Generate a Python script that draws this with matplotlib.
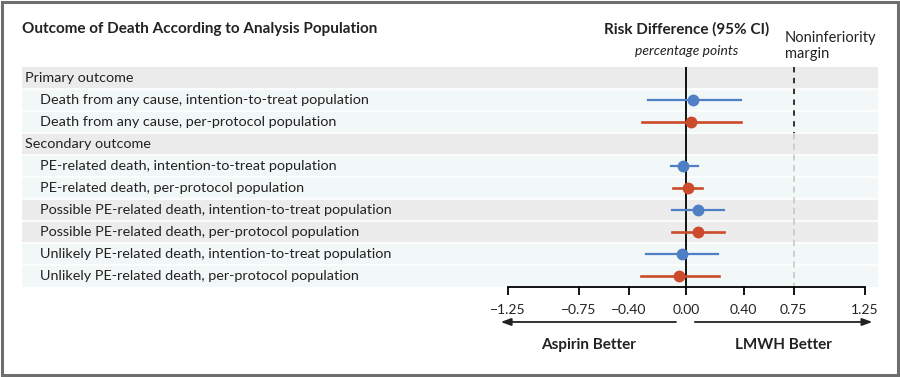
import matplotlib.pyplot as plt
from matplotlib.patches import Rectangle

plt.rcParams['font.family'] = ['Lato', 'DejaVu Sans']

# Data
labels = [
    "Primary outcome",
    "Death from any cause, intention-to-treat population",
    "Death from any cause, per-protocol population",
    "Secondary outcome",
    "PE-related death, intention-to-treat population",
    "PE-related death, per-protocol population",
    "Possible PE-related death, intention-to-treat population",
    "Possible PE-related death, per-protocol population",
    "Unlikely PE-related death, intention-to-treat population",
    "Unlikely PE-related death, per-protocol population",
]
is_header = [True, False, False, True, False, False, False, False, False, False]
band_shade = ["head", "pale", "pale", "head", "pale", "pale", "gray", "gray", "pale", "pale"]

est = [None, 0.05, 0.03, None, -0.02, 0.01, 0.08, 0.08, -0.03, -0.05]
lo = [None, -0.27, -0.31, None, -0.11, -0.09, -0.10, -0.10, -0.28, -0.32]
hi = [None, 0.38, 0.38, None, 0.08, 0.11, 0.26, 0.26, 0.22, 0.23]
population = [None, "itt", "pp", None, "itt", "pp", "itt", "pp", "itt", "pp"]

ticks = [-1.25, -0.75, -0.40, 0.00, 0.40, 0.75, 1.25]
tick_labels = ["\u22121.25", "\u22120.75", "\u22120.40", "0.00", "0.40", "0.75", "1.25"]
margin = 0.75

colors = {"itt": "#4f80c6", "pp": "#cc4b2a"}
shades = {"head": "#ebebeb", "pale": "#f2f7f7", "gray": "#ececec"}

W, H = 900, 377
fig = plt.figure(figsize=(9, 3.77), dpi=100)
ax = fig.add_axes([22 / W, 1 - 287 / H, 856 / W, 220 / H])

n = len(labels)
ax.set_ylim(n - 0.5, -0.5)
ax.set_xlim(-4.645, 1.34)

# row bands
for i, s in enumerate(band_shade):
    ax.axhspan(i - 0.5, i + 0.5, color=shades[s], lw=0, zorder=0)
    if i > 0:
        ax.axhline(i - 0.5, color="white", lw=1.2, zorder=1)

# reference lines
ax.plot([0, 0], [-0.5, n - 0.5], color="black", lw=1.3, zorder=2)
ax.plot([margin, margin], [-0.5, 2.5], color="#222222", lw=1.3, ls=(0, (3, 3)), zorder=2)
ax.plot([margin, margin], [2.5, n - 0.5], color="#c4c4c4", lw=1.1, ls=(0, (4, 3)), zorder=2)

# estimates
for i in range(n):
    if est[i] is None:
        continue
    c = colors[population[i]]
    ax.plot([lo[i], hi[i]], [i, i], color=c, lw=1.6 if population[i] == "itt" else 1.9, zorder=3)
    ax.plot(est[i], i, "o", color=c, ms=7.5, zorder=4)

# row labels
for i, (lab, h) in enumerate(zip(labels, is_header)):
    ax.text(0.0035 if h else 0.021, i, lab, transform=ax.get_yaxis_transform(),
            ha="left", va="center", fontsize=10.4, color="#222222")

# axis styling
for s in ["top", "right", "left"]:
    ax.spines[s].set_visible(False)
ax.spines["bottom"].set_bounds(-1.25, 1.25)
ax.spines["bottom"].set_linewidth(1.3)
ax.set_yticks([])
ax.set_xticks(ticks)
ax.set_xticklabels(tick_labels, fontsize=10, color="#222222")
ax.tick_params(axis="x", length=6, width=1.3, pad=6)

# header texts
xt = ax.get_xaxis_transform()
ax.text(0, 1.173, "Risk Difference (95% CI)", transform=xt, ha="center", va="center",
        fontsize=11, fontweight="bold", color="#222222")
ax.text(0, 1.073, "percentage points", transform=xt, ha="center", va="center",
        fontsize=10, style="italic", color="#222222")
ax.text(0.69, 1.095, "Noninferiority\nmargin", transform=xt, ha="left", va="center",
        fontsize=10.5, color="#222222", linespacing=1.2)
fig.text(22 / W, 1 - 29 / H, "Outcome of Death According to Analysis Population",
         ha="left", va="center", fontsize=11, fontweight="bold", color="#222222")

# direction arrows
ay = -0.159
ax.annotate("", xy=(-1.317, ay), xytext=(-0.053, ay), xycoords=xt, textcoords=xt,
            arrowprops=dict(arrowstyle="-|>,head_length=0.6,head_width=0.22", color="#222222", lw=1.3))
ax.annotate("", xy=(1.32, ay), xytext=(0.04, ay), xycoords=xt, textcoords=xt,
            arrowprops=dict(arrowstyle="-|>,head_length=0.6,head_width=0.22", color="#222222", lw=1.3))
ax.text(-0.685, -0.264, "Aspirin Better", transform=xt, ha="center", va="center",
        fontsize=11, fontweight="bold", color="#222222")
ax.text(0.68, -0.264, "LMWH Better", transform=xt, ha="center", va="center",
        fontsize=11, fontweight="bold", color="#222222")

# outer frame
fig.patches.append(Rectangle((0.002, 0.004), 0.996, 0.992, transform=fig.transFigure,
                             fill=False, edgecolor="#6e6e6e", lw=2.2))

fig.savefig("out.png", dpi=100)
